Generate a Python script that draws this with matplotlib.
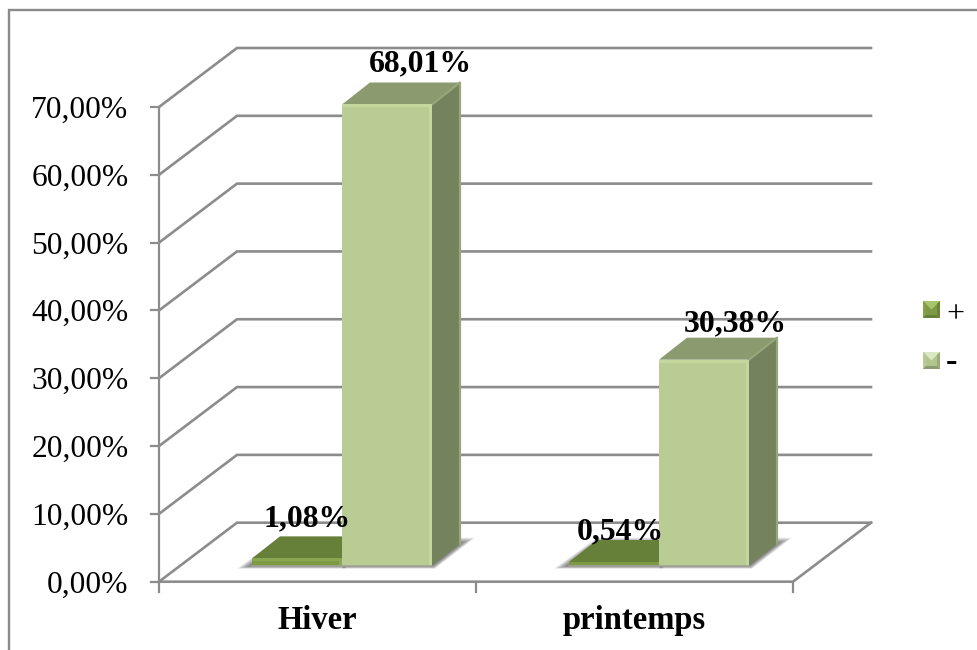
import numpy as np
import matplotlib
matplotlib.use("Agg")
import matplotlib.pyplot as plt
from matplotlib.lines import Line2D
from matplotlib.patches import Polygon, Rectangle

# Series values, in percent
categories = ["Hiver", "printemps"]
series_names = ["+", "-"]
plus_values = [1.08, 0.54]
minus_values = [68.01, 30.38]
plus_labels = ["1,08%", "0,54%"]
minus_labels = ["68,01%", "30,38%"]
y_ticks = [0, 10, 20, 30, 40, 50, 60, 70]
y_tick_labels = ["0,00%", "10,00%", "20,00%", "30,00%", "40,00%", "50,00%", "60,00%", "70,00%"]

W, H = 978, 650
PLOT_L, PLOT_R, Y0, Y70 = 159, 793, 581.7, 107.0
px_x = (PLOT_R - PLOT_L) / 2
px_y = (Y0 - Y70) / 70

# Oblique projection of the 3D box, in axis units
wall_dx, wall_dy = 78 / px_x, 59 / px_y
bar_w = 90 / px_x
front_dx, front_dy = 24.5 / px_x, 16 / px_y
depth_dx, depth_dy = 28 / px_x, 22 / px_y

GRID = "#8c8c8c"
SERIF = "Liberation Serif"

fig = plt.figure(figsize=(W / 100, H / 100), dpi=100, facecolor="white")
ax = fig.add_axes([PLOT_L / W, 1 - Y0 / H, (PLOT_R - PLOT_L) / W, (Y0 - Y70) / H])
ax.set_xlim(0, 2)
ax.set_ylim(0, 70)
ax.axis("off")

# Chart frame: only the top and left edges fall inside the canvas
fig.add_artist(Line2D([9 / W, 9 / W, 1], [0, 1 - 10 / H, 1 - 10 / H], transform=fig.transFigure,
                      color="#8a8a8a", lw=1.7, solid_joinstyle="miter"))

# Gridlines on the side and back walls
for v in y_ticks:
    ax.plot([0, wall_dx, 2 + wall_dx], [v, v + wall_dy, v + wall_dy], color=GRID, lw=1.9,
            clip_on=False, solid_joinstyle="miter", zorder=1)
# Floor outline, axes and tick marks
ax.plot([0, 2, 2 + wall_dx], [0, 0, wall_dy], color=GRID, lw=1.9, clip_on=False, zorder=1)
ax.plot([0, 0], [0, 70], color=GRID, lw=1.6, clip_on=False, zorder=1)
for v in y_ticks:
    ax.plot([-8 / px_x, 0], [v, v], color=GRID, lw=1.6, clip_on=False, zorder=1)
for c in [0, 1, 2]:
    ax.plot([c, c], [0, -10 / px_y], color=GRID, lw=1.6, clip_on=False, zorder=1)

for v, t in zip(y_ticks, y_tick_labels):
    ax.text(-30.5 / px_x, v - 3.3 / px_y, t, ha="right", va="center", family=SERIF, fontsize=22.7, color="black",
            clip_on=False, zorder=6)
for c, t in enumerate(categories):
    ax.text(c + 0.5, -39 / px_y, t, ha="center", va="center", family=SERIF, fontsize=23.5,
            fontweight="bold", clip_on=False, zorder=6)


def soft_shadow(x0, x1, reach_left):
    # Soft shadow falling on the floor beside and under a bar
    for grow in np.linspace(15, 1, 12):
        g = grow / px_x
        drop = grow * 0.2 / px_y
        rise = grow * 0.4 / px_y
        pts = [(x0 - g * reach_left, front_dy - drop), (x1 + g * 0.2, front_dy - drop),
               (x1 + depth_dx + g, front_dy + depth_dy + rise),
               (x0 + depth_dx, front_dy + depth_dy + rise)]
        ax.add_patch(Polygon(pts, closed=True, fc="#333333", ec="none", alpha=0.075, zorder=1.5, clip_on=False))


def box(x0, value, front, top, side, light, edge, reach_left, z):
    # Extruded column: side, top and front faces with a light bevel on the edges
    x1 = x0 + bar_w
    y0, y1 = front_dy, front_dy + value
    soft_shadow(x0, x1, reach_left)
    ax.add_patch(Polygon([(x1, y0), (x1 + depth_dx, y0 + depth_dy), (x1 + depth_dx, y1 + depth_dy), (x1, y1)],
                         closed=True, fc=side, ec="none", zorder=z, clip_on=False))
    ax.add_patch(Polygon([(x0, y1), (x0 + depth_dx, y1 + depth_dy), (x1 + depth_dx, y1 + depth_dy), (x1, y1)],
                         closed=True, fc=top, ec="none", zorder=z, clip_on=False))
    ax.add_patch(Rectangle((x0, y0), bar_w, value, fc=front, ec="none", zorder=z + 0.1, clip_on=False))
    ax.plot([x1, x1 + depth_dx, x1 + depth_dx], [y1, y1 + depth_dy, y0 + depth_dy], color=edge, lw=1.6,
            zorder=z + 0.05, clip_on=False)
    bevel = 3 / px_y
    if value > 2 * bevel:
        ax.add_patch(Rectangle((x0, y1 - bevel), bar_w, bevel, fc=light, ec="none", zorder=z + 0.2, clip_on=False))
        ax.add_patch(Rectangle((x1 - 3 / px_x, y0), 3 / px_x, value, fc=light, ec="none", zorder=z + 0.2, clip_on=False))
    ax.plot([x0, x1], [y0, y0], color="#a3a398", lw=1.2, zorder=z + 0.3, clip_on=False)


for c in range(2):
    left = c + 0.5 - bar_w + front_dx
    box(left, plus_values[c], "#7f9a45", "#66803a", "#5d7535", "#8ba653", "#66803a", 1.0, 2)
    box(left + bar_w, minus_values[c], "#b9cc94", "#8c9a70", "#75825e", "#c4d89e", "#98a67c", 0.0, 3)

# Value labels, offset in pixels from the top of each column
plus_offsets = [(-35, 39), (-39, 30)]
minus_offsets = [(-12, 41), (-14, 36)]
for c in range(2):
    left = c + 0.5 - bar_w + front_dx
    dx, dy = plus_offsets[c]
    ax.text(left + bar_w + dx / px_x, front_dy + plus_values[c] + dy / px_y, plus_labels[c], ha="center",
            va="center", family=SERIF, fontsize=22.9, fontweight="bold", zorder=6, clip_on=False)
    dx, dy = minus_offsets[c]
    ax.text(left + bar_w * 2 + dx / px_x, front_dy + minus_values[c] + dy / px_y, minus_labels[c], ha="center",
            va="center", family=SERIF, fontsize=22.9, fontweight="bold", zorder=6, clip_on=False)

# Legend, placed in figure pixels on the right of the plot
legend_ax = fig.add_axes([0, 0, 1, 1], facecolor="none")
legend_ax.set_xlim(0, W)
legend_ax.set_ylim(H, 0)
legend_ax.axis("off")


def swatch(x, y, s, base, top, left, right, bottom):
    legend_ax.add_patch(Rectangle((x, y), s, s, fc=base, ec="none"))
    b = 3
    legend_ax.add_patch(Polygon([(x, y), (x + s, y), (x + s / 2, y + s / 2)], fc=top, ec="none"))
    legend_ax.add_patch(Polygon([(x, y), (x + b, y + b), (x + b, y + s - b), (x, y + s)], fc=left, ec="none"))
    legend_ax.add_patch(Polygon([(x + s, y), (x + s - b, y + b), (x + s - b, y + s - b), (x + s, y + s)], fc=right, ec="none"))
    legend_ax.add_patch(Polygon([(x, y + s), (x + b, y + s - b), (x + s - b, y + s - b), (x + s, y + s)], fc=bottom, ec="none"))


swatch(923, 301, 17, "#7f9a45", "#a9c46a", "#84a04a", "#6c8539", "#66803a")
swatch(923, 352, 17, "#b3c58f", "#dbe8c4", "#b8ca96", "#9bab7c", "#8c9a70")
legend_ax.text(946, 315, series_names[0], ha="left", va="center", family=SERIF, fontsize=23)
legend_ax.text(946, 363, series_names[1], ha="left", va="center", family=SERIF, fontsize=25, fontweight="bold")

fig.savefig("out.png", dpi=100)
